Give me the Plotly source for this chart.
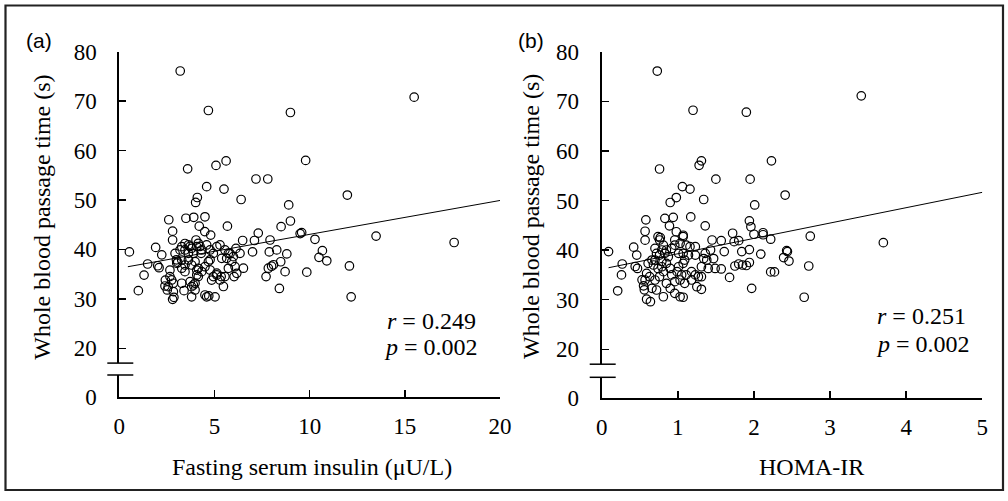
import plotly.graph_objects as go

# ---------------- data: panel (a) fasting serum insulin vs passage time ----------------
insulin_a = [
    3.2, 4.68, 8.99, 15.49, 9.79, 3.59, 5.08, 5.61, 7.18, 7.8,
    4.59, 5.5, 11.98, 4.1, 4.01, 6.4, 8.9, 8.99, 8.5, 2.6,
    3.5, 3.91, 4.5, 4.2, 5.68, 2.8, 4.49, 4.8, 7.3, 9.58,
    9.5, 10.28, 13.49, 17.59, 10.67, 10.49, 10.9, 12.09, 12.18, 9.85,
    8.71, 8.41, 8.48, 8.8, 8.27, 8.0, 8.1, 7.88, 7.92, 7.83,
    7.71, 7.0, 7.1, 6.48, 6.52, 6.34, 6.13, 6.08, 6.03, 5.82,
    5.64, 5.47, 5.35, 5.29, 5.12, 5.03, 4.85, 4.77, 4.7, 4.59,
    4.3, 4.24, 4.15, 4.07, 4.03, 3.98, 3.89, 3.8, 3.72, 3.45,
    3.4, 3.28, 3.19, 3.07, 3.0, 2.93, 2.87, 2.8, 2.8, 2.66,
    2.52, 2.4, 2.42, 2.23, 2.09, 2.02, 1.91, 1.49, 1.3, 1.0,
    0.53, 3.28, 3.45, 3.63, 3.8, 3.89, 4.07, 4.15, 4.33, 4.59,
    3.02, 3.28, 3.45, 3.63, 3.8, 3.98, 4.15, 4.33, 4.5, 4.68,
    4.77, 4.94, 5.12, 5.29, 2.66, 2.75, 2.84, 2.57, 2.84, 3.28,
    3.72, 3.8, 3.98, 4.77, 4.94, 5.12, 5.38, 5.55, 5.73, 5.91,
    5.99, 6.17, 4.5, 3.45, 4.07, 5.73, 5.55, 3.63,
]
passage_a = [
    76.1, 68.1, 67.7, 70.8, 58.0, 56.3, 57.0, 57.9, 54.25, 54.25,
    52.7, 52.2, 51.0, 50.5, 49.5, 50.1, 49.0, 45.75, 44.6, 46.0,
    46.3, 46.5, 46.6, 44.7, 44.7, 43.7, 43.6, 42.9, 43.3, 43.4,
    43.2, 42.05, 42.7, 41.4, 39.75, 38.4, 37.7, 36.65, 30.4, 35.4,
    35.5, 32.1, 37.5, 39.1, 39.9, 36.6, 36.9, 39.5, 41.9, 36.2,
    34.5, 39.5, 41.8, 41.8, 36.2, 39.2, 40.2, 36.5, 34.5, 39.2,
    38.2, 32.5, 34.5, 40.9, 35.2, 30.4, 33.8, 37.9, 30.6, 30.4,
    39.2, 40.6, 34.5, 35.8, 41.9, 31.8, 32.8, 30.4, 40.6, 41.2,
    31.65, 36.2, 39.9, 37.4, 37.9, 39.2, 30.3, 29.9, 41.9, 35.8,
    31.8, 32.6, 33.8, 38.9, 36.3, 36.7, 40.4, 37.05, 34.8, 31.65,
    39.5, 40.56, 39.89, 40.9, 40.23, 39.2, 40.56, 41.24, 39.89, 40.9,
    37.2, 37.86, 36.85, 37.86, 36.85, 37.52, 36.18, 35.5, 36.5, 37.52,
    35.84, 34.5, 34.83, 33.82, 34.5, 33.82, 33.15, 32.46, 31.45, 33.15,
    33.47, 32.46, 33.15, 39.89, 39.2, 40.56, 38.2, 39.89, 39.2, 37.52,
    38.53, 35.17, 30.78, 35.5, 34.83, 36.18, 34.5, 39.2,
]
fit_a_x = [0.45, 20.0]
fit_a_y = [36.5, 49.9]

# ---------------- data: panel (b) HOMA-IR vs passage time ----------------
homa_b = [
    0.73, 1.2, 1.9, 3.41, 0.76, 1.28, 1.31, 2.23, 1.5, 1.95,
    1.06, 1.16, 0.98, 0.9, 1.34, 2.41, 2.01, 0.58, 0.83, 0.94,
    1.17, 0.89, 1.36, 1.94, 1.96, 0.57, 0.98, 1.07, 1.72, 2.12,
    2.12, 2.0, 0.77, 2.74, 3.7, 2.43, 2.39, 2.46, 2.72, 2.66,
    0.09, 0.21, 0.26, 0.27, 0.42, 0.44, 0.47, 0.46, 0.57, 0.53,
    0.55, 0.56, 0.59, 0.64, 0.66, 1.57, 1.61, 1.57, 1.68, 1.74,
    1.8, 1.84, 1.94, 1.97, 2.22, 2.09, 2.22, 2.27, 2.44, 1.75,
    1.8, 1.85, 1.9, 1.94,
    0.74, 0.76, 0.81, 0.85, 0.79, 0.72, 0.76, 0.83, 0.875, 0.70,
    0.79, 0.85, 0.68, 0.74, 0.79, 0.9, 0.96, 0.96, 1.03, 1.07,
    1.11, 1.01, 1.07, 1.09, 1.16, 1.23, 1.36, 1.43, 1.38, 1.34,
    1.47, 1.49, 1.01, 1.07, 0.99, 0.92, 1.05, 1.11, 1.18, 1.23,
    1.27, 1.31, 0.59, 0.57, 0.63, 0.70, 0.72, 0.81, 0.85, 0.96,
    0.96, 1.03, 1.07, 1.25, 1.31, 0.66,
    0.61, 0.92, 1.14, 1.18, 0.9, 0.81, 1.09, 0.76, 1.45, 1.23,
    1.31, 1.4, 0.70, 1.03,
]
passage_b = [
    76.1, 68.2, 67.8, 71.1, 56.35, 57.1, 58.0, 58.0, 54.3, 54.3,
    52.8, 52.3, 50.6, 49.6, 50.2, 51.1, 49.1, 46.1, 46.4, 46.6,
    46.7, 44.9, 44.9, 45.9, 44.7, 43.8, 43.7, 43.0, 43.4, 43.5,
    43.1, 43.2, 42.5, 42.8, 41.5, 39.9, 38.5, 37.8, 36.8, 30.5,
    39.7, 31.8, 35.0, 37.2, 40.6, 36.7, 36.3, 39.0, 42.0, 34.0,
    32.8, 32.0, 30.1, 29.6, 38.0, 41.9, 39.7, 36.2, 34.5, 41.7,
    41.9, 39.7, 40.1, 32.3, 42.2, 39.2, 35.6, 35.6, 39.7, 36.8,
    37.2, 37.0, 36.9, 37.5,
    42.7, 42.04, 41.0, 40.02, 40.02, 39.35, 39.0, 39.35, 38.67, 38.0,
    37.7, 37.34, 37.0, 36.3, 36.65, 36.3, 42.04, 41.0, 41.37, 42.7,
    41.0, 39.35, 39.35, 38.0, 40.69, 39.0, 39.35, 40.02, 38.0, 38.3,
    38.3, 36.3, 36.65, 37.34, 35.65, 35.0, 35.0, 35.0, 35.65, 35.0,
    34.64, 34.64, 35.32, 33.97, 34.64, 33.97, 31.96, 30.6, 33.31, 33.64,
    31.29, 30.6, 30.5, 32.62, 32.1, 32.3,
    37.34, 40.35, 39.0, 33.97, 32.3, 35.65, 33.31, 34.64, 42.04, 40.69,
    36.65, 36.3, 40.35, 33.97,
]
fit_b_x = [0.09, 5.0]
fit_b_y = [36.45, 51.65]

x_ticks_a = [0, 5, 10, 15, 20]
x_ticks_b = [0, 1, 2, 3, 4, 5]
y_ticks_upper = [20, 30, 40, 50, 60, 70, 80]
y_ticks_lower = [0]

# ---------------- layout helpers (window pixel -> paper) ----------------
# the page body margin is removed by a post script, so figure pixels == window pixels
W, H = 1008, 501
def px(p):
    return p / W
def py(p):
    return 1 - p / H

SERIF = "Liberation Serif"
tickfont = dict(family=SERIF, size=23, color="black")

marker = dict(symbol="circle-open", size=8.5, color="black", line=dict(width=1.2, color="black"))

fig = go.Figure()
fig.add_trace(go.Scatter(x=insulin_a, y=passage_a, mode="markers", marker=marker,
                         xaxis="x", yaxis="y", showlegend=False, hoverinfo="skip"))
fig.add_trace(go.Scatter(x=fit_a_x, y=fit_a_y, mode="lines", line=dict(color="black", width=1),
                         xaxis="x", yaxis="y", showlegend=False, hoverinfo="skip"))
fig.add_trace(go.Scatter(x=[], y=[], xaxis="x", yaxis="y3", showlegend=False))
fig.add_trace(go.Scatter(x=homa_b, y=passage_b, mode="markers", marker=marker,
                         xaxis="x2", yaxis="y2", showlegend=False, hoverinfo="skip"))
fig.add_trace(go.Scatter(x=fit_b_x, y=fit_b_y, mode="lines", line=dict(color="black", width=1),
                         xaxis="x2", yaxis="y2", showlegend=False, hoverinfo="skip"))
fig.add_trace(go.Scatter(x=[], y=[], xaxis="x2", yaxis="y4", showlegend=False))

common = dict(showline=True, linecolor="black", linewidth=2, ticks="inside", ticklen=7,
              tickwidth=1.5, tickcolor="black", showgrid=False, zeroline=False,
              tickfont=tickfont, automargin=False, fixedrange=True)

# panel (a) geometry (window pixels)
ax_a_l, ax_a_r = 119.3, 500.0
ya_top, ya_brk, ya_lo_top, ya_bot = 51.7, 363.1, 375.0, 396.7
# panel (b) geometry
ax_b_l, ax_b_r = 601.7, 982.3
yb_top, yb_brk, yb_lo_top, yb_bot = 51.7, 364.2, 377.3, 397.7

XSTAND, YSTAND = 8, 16

fig.update_layout(
    width=W, height=H, margin=dict(l=0, r=0, t=0, b=0),
    paper_bgcolor="white", plot_bgcolor="white",
    font=dict(family=SERIF, color="black"),
    xaxis=dict(domain=[px(ax_a_l), px(ax_a_r)], range=[0, 20], anchor="y3",
               tickvals=x_ticks_a, ticklabelstandoff=XSTAND, **common),
    yaxis=dict(domain=[py(ya_brk), py(ya_top)], range=[17, 80], anchor="x",
               tickvals=y_ticks_upper, ticklabelstandoff=YSTAND, **common),
    yaxis3=dict(domain=[py(ya_bot), py(ya_lo_top)], range=[0, (ya_bot - ya_lo_top) / 4.943],
                anchor="x", tickvals=y_ticks_lower, ticklabelstandoff=YSTAND, **common),
    xaxis2=dict(domain=[px(ax_b_l), px(ax_b_r)], range=[0, 5], anchor="y4",
                tickvals=x_ticks_b, ticklabelstandoff=XSTAND, **common),
    yaxis2=dict(domain=[py(yb_brk), py(yb_top)], range=[17, 80], anchor="x2",
                tickvals=y_ticks_upper, ticklabelstandoff=YSTAND, **common),
    yaxis4=dict(domain=[py(yb_bot), py(yb_lo_top)], range=[0, (yb_bot - yb_lo_top) / 4.96],
                anchor="x2", tickvals=y_ticks_lower, ticklabelstandoff=YSTAND, **common),
)

shapes = [
    dict(type="rect", xref="paper", yref="paper", x0=px(5.5), x1=px(1003), y0=py(490), y1=py(5.5),
         line=dict(color="#222", width=2.2), fillcolor="rgba(0,0,0,0)", layer="above"),
]
for axx, yb1, yb2 in [(ax_a_l, ya_brk, ya_lo_top), (ax_b_l, yb_brk, yb_lo_top)]:
    for yy in (yb1, yb2):
        shapes.append(dict(type="line", xref="paper", yref="paper",
                           x0=px(axx - 12), x1=px(axx + 14), y0=py(yy), y1=py(yy),
                           line=dict(color="black", width=1.5)))
fig.update_layout(shapes=shapes)

ann = []
def add_text(text, x, y, size, family=SERIF, angle=0):
    ann.append(dict(text=text, x=px(x), y=py(y), xref="paper", yref="paper",
                    showarrow=False, xanchor="center", yanchor="middle", textangle=angle,
                    font=dict(family=family, size=size, color="black")))

add_text("(a)", 39, 40, 21, family="Liberation Sans")
add_text("(b)", 530.5, 40, 21, family="Liberation Sans")
add_text("Whole blood passage time (s)", 41.7, 217, 24, angle=-90)
add_text("Whole blood passage time (s)", 531, 217, 24, angle=-90)
add_text("Fasting serum insulin (\u03bcU/L)", 311.5, 467, 24)
add_text("HOMA-IR", 811, 467, 24)
add_text("<i>r</i> = 0.249", 431, 321, 24)
add_text("<i>p</i> = 0.002", 431, 347, 24)
add_text("<i>r</i> = 0.251", 921.5, 316, 24)
add_text("<i>p</i> = 0.002", 922.5, 344, 24)
fig.update_layout(annotations=ann)

fig.write_html("out.html",
               config={"displayModeBar": False, "staticPlot": True},
               post_script="document.body.style.margin='0';document.body.style.overflow='hidden';")
